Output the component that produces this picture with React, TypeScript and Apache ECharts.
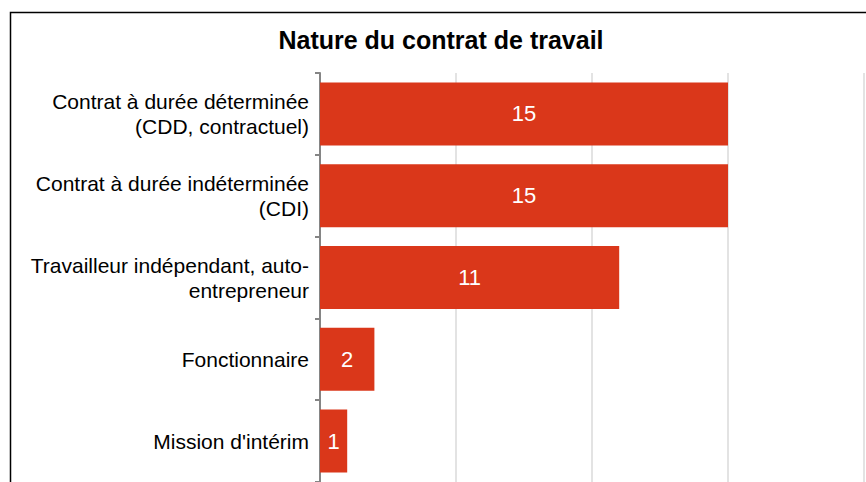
import React, { useEffect, useRef } from "react";
import * as echarts from "echarts";

const titleText = "Nature du contrat de travail";
const categories = [
  "Contrat à durée déterminée\n(CDD, contractuel)",
  "Contrat à durée indéterminée\n(CDI)",
  "Travailleur indépendant, auto-\nentrepreneur",
  "Fonctionnaire",
  "Mission d'intérim",
];
const values = [15, 15, 11, 2, 1];
const axisMax = 20;
const axisInterval = 5;

export default function App() {
  const ref = useRef<HTMLDivElement>(null);
  useEffect(() => {
    if (!ref.current) return;
    const chart = echarts.init(ref.current, null, { renderer: "svg" });
    chart.setOption({
      animation: false,
      backgroundColor: "#ffffff",
      textStyle: { fontFamily: "Liberation Sans, Arial, sans-serif" },
      graphic: [
        {
          type: "rect",
          silent: true,
          shape: { x: 10.5, y: 12.5, width: 2000, height: 2000 },
          style: { fill: "none", stroke: "#000000", lineWidth: 1.5 },
          z: 10,
        },
        {
          type: "text",
          x: 441,
          y: 40,
          style: {
            text: titleText,
            textAlign: "center",
            textVerticalAlign: "middle",
            font: "bold 25px 'Liberation Sans', Arial, sans-serif",
            fill: "#000000",
          },
        },
      ],
      grid: { left: 320, top: 73, right: 2, bottom: 0, containLabel: false },
      xAxis: {
        type: "value",
        min: 0,
        max: axisMax,
        interval: axisInterval,
        axisLabel: { show: false },
        axisLine: { show: false },
        axisTick: { show: false },
        splitLine: { show: true, lineStyle: { color: "#e3e3e3", width: 2 } },
      },
      yAxis: {
        type: "category",
        inverse: true,
        data: categories,
        axisLine: { show: true, lineStyle: { color: "#858585", width: 2 } },
        axisTick: { show: true, length: 5, lineStyle: { color: "#858585", width: 2 } },
        axisLabel: {
          color: "#000000",
          fontSize: 21,
          lineHeight: 25,
          margin: 11,
          fontFamily: "Liberation Sans, Arial, sans-serif",
          align: "right",
        },
      },
      series: [
        {
          type: "bar",
          data: values,
          barWidth: 63,
          itemStyle: { color: "#da371a" },
          label: {
            show: true,
            position: "inside",
            color: "#ffffff",
            fontSize: 22,
            fontFamily: "Liberation Sans, Arial, sans-serif",
          },
        },
      ],
    });
    return () => chart.dispose();
  }, []);
  return (
    <div
      ref={ref}
      style={{ position: "absolute", left: 0, top: 0, width: 866, height: 482 }}
    />
  );
}
